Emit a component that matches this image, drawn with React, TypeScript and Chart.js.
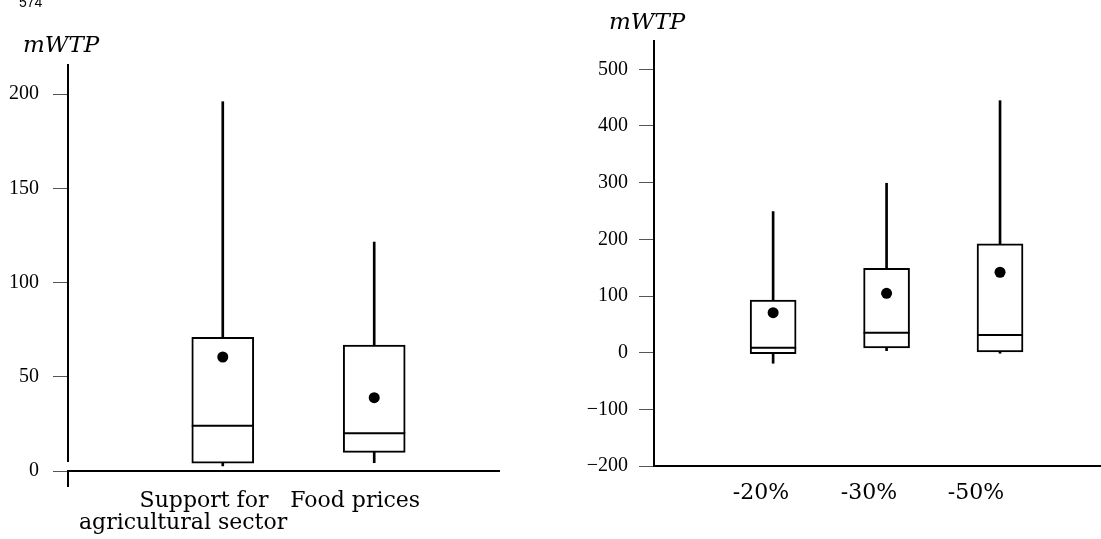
import { useEffect, useRef } from "react";
import { Chart, registerables } from "chart.js";

Chart.register(...registerables);

// ---------- Left panel data (mWTP by attribute) ----------
const leftCategories: (string | string[])[] = [["Support for", "agricultural sector"], "Food prices"];
const leftMin = [2.7, 4.4];
const leftQ1 = [4.2, 9.9];
const leftMedian = [24, 20];
const leftQ3 = [71, 66.8];
const leftMax = [196, 121.5];
const leftMean = [60.5, 38.9];
const leftYTicks = [0, 50, 100, 150, 200];

// ---------- Right panel data (mWTP by price reduction) ----------
const rightCategories: (string | string[])[] = ["-20%", "-30%", "-50%"];
const rightMin = [-18.7, 3.5, -1];
const rightQ1 = [-1.8, 8.3, 1.2];
const rightMedian = [8.8, 35.3, 31.2];
const rightQ3 = [93, 149, 192];
const rightMax = [249, 299, 444.7];
const rightMean = [70.6, 104.8, 141.9];
const rightYTicks = [-200, -100, 0, 100, 200, 300, 400, 500];

const yTitle = "mWTP";
const pageNumber = "574";

type Panel = {
  categories: (string | string[])[];
  min: number[];
  q1: number[];
  median: number[];
  q3: number[];
  max: number[];
  mean: number[];
  yTicks: number[];
  yMin: number;
  yMax: number;
  xMin: number;
  xMax: number;
  labelAnchors: number[];
  boxWidth: number;
  padding: { top: number; right: number; bottom: number; left: number };
  yAxisWidth: number;
  xAxisHeight: number;
  yBorder: boolean;
  originTick: boolean;
  labelPadding: number;
  yLabelPadding: number;
  axisGap: number;
  showPage: boolean;
};

const leftPanel: Panel = {
  categories: leftCategories,
  min: leftMin,
  q1: leftQ1,
  median: leftMedian,
  q3: leftQ3,
  max: leftMax,
  mean: leftMean,
  yTicks: leftYTicks,
  yMin: 0,
  yMax: 216,
  xMin: -0.022,
  xMax: 2.824,
  labelAnchors: [0.738, 1.874],
  boxWidth: 62,
  padding: { top: 64, right: 51, bottom: 0, left: 0 },
  yAxisWidth: 68,
  xAxisHeight: 68,
  yBorder: false,
  originTick: true,
  labelPadding: 3,
  yLabelPadding: 14,
  axisGap: 9,
  showPage: true,
};

const rightPanel: Panel = {
  categories: rightCategories,
  min: rightMin,
  q1: rightQ1,
  median: rightMedian,
  q3: rightQ3,
  max: rightMax,
  mean: rightMean,
  yTicks: rightYTicks,
  yMin: -200,
  yMax: 550,
  xMin: -0.05,
  xMax: 3.89,
  labelAnchors: [0.893, 1.845, 2.788],
  boxWidth: 46,
  padding: { top: 41, right: 0, bottom: 0, left: 0 },
  yAxisWidth: 104,
  xAxisHeight: 73,
  yBorder: true,
  originTick: false,
  labelPadding: 16,
  yLabelPadding: 11,
  axisGap: 0,
  showPage: false,
};

function buildConfig(p: Panel): any {
  const xs = p.categories.map((_, i) => i + 1);
  const pts = (vals: number[]) => vals.map((v, i) => ({ x: xs[i], y: v }));
  const ranges = (a: number[], b: number[]) => a.map((v, i) => ({ x: xs[i], y: [v, b[i]] }));
  const labelFor = (value: number) => {
    const idx = p.labelAnchors.findIndex((a) => Math.abs(a - value) < 1e-9);
    if (idx < 0) return "";
    const lab = p.categories[idx];
    if (Array.isArray(lab)) {
      // indent first line so that it sits right of the second (as in the source layout)
      return ["\u00a0\u00a0\u00a0\u00a0\u00a0\u00a0" + lab[0], ...lab.slice(1)];
    }
    return lab;
  };

  const decor = {
    id: "decor" + (p.showPage ? "L" : "R"),
    afterDraw(chart: any) {
      const { ctx, chartArea } = chart;
      ctx.save();
      ctx.fillStyle = "#000";
      ctx.font = "italic 23px 'DejaVu Serif'";
      ctx.textAlign = "left";
      ctx.textBaseline = "alphabetic";
      ctx.fillText(yTitle, chartArea.left - 45, chartArea.top - 12);
      if (!p.yBorder) {
        ctx.strokeStyle = "#000";
        ctx.lineWidth = 2;
        ctx.beginPath();
        ctx.moveTo(chartArea.left, chartArea.top);
        ctx.lineTo(chartArea.left, chartArea.bottom - p.axisGap);
        ctx.stroke();
      }
      if (p.showPage) {
        ctx.font = "14px 'Liberation Sans'";
        ctx.fillText(pageNumber, 19, 7);
      }
      ctx.restore();
    },
  };

  return {
    type: "bar",
    data: {
      datasets: [
        {
          type: "bar",
          label: "IQR",
          data: ranges(p.q1, p.q3),
          backgroundColor: "#ffffff",
          borderColor: "#000000",
          borderWidth: 2,
          borderSkipped: false,
          barThickness: p.boxWidth,
          maxBarThickness: p.boxWidth,
          grouped: false,
          order: 3,
        },
        {
          type: "bar",
          label: "lower whisker",
          data: ranges(p.min, p.q1),
          backgroundColor: "#000000",
          borderWidth: 0,
          barThickness: 2,
          maxBarThickness: 2,
          grouped: false,
          order: 2,
        },
        {
          type: "bar",
          label: "upper whisker",
          data: ranges(p.q3, p.max),
          backgroundColor: "#000000",
          borderWidth: 0,
          barThickness: 2,
          maxBarThickness: 2,
          grouped: false,
          order: 2,
        },
        {
          type: "scatter",
          label: "median",
          data: pts(p.median),
          pointStyle: "line",
          radius: p.boxWidth / 2,
          hoverRadius: p.boxWidth / 2,
          borderColor: "#000000",
          borderWidth: 2,
          order: 1,
        },
        {
          type: "scatter",
          label: "mean",
          data: pts(p.mean),
          pointStyle: "circle",
          radius: 5.5,
          hoverRadius: 5.5,
          backgroundColor: "#000000",
          borderWidth: 0,
          order: 0,
        },
      ],
    },
    options: {
      responsive: false,
      maintainAspectRatio: false,
      animation: false,
      devicePixelRatio: 1,
      events: [],
      layout: { padding: p.padding, autoPadding: false },
      plugins: { legend: { display: false }, tooltip: { enabled: false }, title: { display: false } },
      scales: {
        x: {
          type: "linear",
          min: p.xMin,
          max: p.xMax,
          offset: false,
          afterBuildTicks: (scale: any) => {
            const t = p.labelAnchors.map((v) => ({ value: v }));
            scale.ticks = p.originTick ? [{ value: p.xMin }, ...t] : t;
          },
          afterFit: (scale: any) => {
            scale.height = p.xAxisHeight;
          },
          grid: {
            display: true,
            offset: false,
            drawOnChartArea: false,
            drawTicks: p.originTick,
            tickLength: 16,
            lineWidth: 2,
            color: (ctx: any) => (p.originTick && ctx.index === 0 ? "#000000" : "rgba(0,0,0,0)"),
          },
          border: { display: true, color: "#000000", width: 2 },
          ticks: {
            autoSkip: false,
            maxRotation: 0,
            minRotation: 0,
            padding: p.labelPadding,
            color: "#000000",
            font: { family: "'DejaVu Serif'", size: 22, lineHeight: 1.0 },
            callback: (value: number) => labelFor(value),
          },
        },
        y: {
          type: "linear",
          min: p.yMin,
          max: p.yMax,
          afterBuildTicks: (scale: any) => {
            scale.ticks = p.yTicks.map((v) => ({ value: v }));
          },
          afterFit: (scale: any) => {
            scale.width = p.yAxisWidth;
          },
          grid: {
            display: true,
            drawOnChartArea: false,
            drawTicks: true,
            tickLength: 15,
            lineWidth: 1,
            color: "#555555",
          },
          border: { display: p.yBorder, color: "#000000", width: 2 },
          ticks: {
            padding: p.yLabelPadding,
            color: "#000000",
            font: { family: "'Liberation Serif'", size: 20 },
            callback: (value: number) => String(value).replace("-", "\u2212"),
          },
        },
      },
    },
    plugins: [decor],
  };
}

export default function App() {
  const leftRef = useRef<HTMLCanvasElement>(null);
  const rightRef = useRef<HTMLCanvasElement>(null);

  useEffect(() => {
    const a = new Chart(leftRef.current as HTMLCanvasElement, buildConfig(leftPanel));
    const b = new Chart(rightRef.current as HTMLCanvasElement, buildConfig(rightPanel));
    return () => {
      a.destroy();
      b.destroy();
    };
  }, []);

  return (
    <div style={{ position: "fixed", left: 0, top: 0, width: 1101, height: 539, background: "#ffffff", overflow: "hidden" }}>
      <canvas ref={leftRef} width={550} height={539} style={{ position: "absolute", left: 0, top: 0 }} />
      <canvas ref={rightRef} width={551} height={539} style={{ position: "absolute", left: 550, top: 0 }} />
    </div>
  );
}
